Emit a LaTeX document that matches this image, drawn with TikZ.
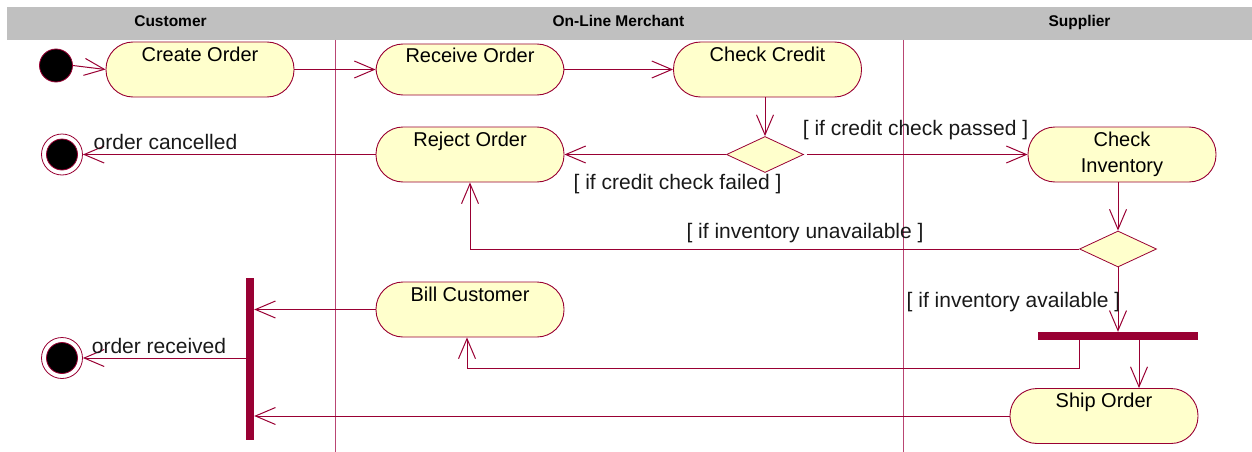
\documentclass[tikz,border=0pt]{standalone}
\usepackage{fontspec}
\setmainfont{Liberation Sans}
\usetikzlibrary{arrows.meta,shapes.geometric}
\definecolor{umlline}{RGB}{153,0,51}
\definecolor{umlfill}{RGB}{255,255,204}
\definecolor{lanegray}{RGB}{192,192,192}
\definecolor{laneline}{RGB}{185,70,115}
\begin{document}
\begin{tikzpicture}[x=1pt,y=-1pt,
  act/.style={draw=umlline, fill=umlfill, line width=0.9pt, rounded corners=27pt,
    minimum width=188pt, minimum height=55pt, inner sep=3pt,
    text height=16pt, text depth=33pt, font=\fontsize{20}{26}\selectfont},
  actc/.style={draw=umlline, fill=umlfill, line width=0.9pt, rounded corners=27pt,
    minimum width=188pt, minimum height=55pt, inner sep=3pt, align=center,
    font=\fontsize{20}{26}\selectfont},
  decision/.style={diamond, draw=umlline, fill=umlfill, line width=0.8pt,
    minimum width=77pt, minimum height=36pt, inner sep=0pt},
  initial/.style={circle, fill=black, draw=umlline, line width=0.8pt,
    minimum size=33pt, inner sep=0pt},
  final/.style={circle, draw=umlline, fill=white, line width=0.8pt,
    minimum size=41pt, inner sep=0pt,
    path picture={\draw[umlline, fill=black, line width=0.8pt]
      (path picture bounding box.center) circle (15.5pt);}},
  bar/.style={fill=umlline, inner sep=0pt},
  flow/.style={draw=umlline, line width=1pt,
    -{Straight Barb[length=20pt,width=17pt,line width=1pt]}},
  guard/.style={font=\fontsize{21}{24}\selectfont, inner sep=0pt, text=black!90},
  lanehead/.style={font=\fontsize{15.5}{18}\selectfont\bfseries, inner sep=0pt},
  lanesep/.style={draw=laneline, line width=0.9pt}]
\useasboundingbox (0,0) rectangle (1252,452);
% header band
\fill[lanegray] (7,7) rectangle (1252,40);
\node[lanehead, anchor=base] (hcust) at (170.5,27) {Customer};
\node[lanehead, anchor=base] (hmerch) at (618.5,27) {On-Line Merchant};
\node[lanehead, anchor=base] (hsupp) at (1079.5,27) {Supplier};
% lane separators
\coordinate (l1top) at (335,40);
\coordinate (l1bot) at (335,452);
\coordinate (l2top) at (903,40);
\coordinate (l2bot) at (903,452);
\draw[lanesep] (l1top) -- (l1bot);
\draw[lanesep] (l2top) -- (l2bot);
% nodes
\node[initial] (init) at (56,65.5) {};
\node[act] (create) at (200,69.5) {Create Order};
\node[act, minimum height=51pt, text depth=29pt] (receive) at (470,69.5) {Receive Order};
\node[act] (credit) at (767.5,69.5) {Check Credit};
\node[act] (reject) at (470,154.5) {Reject Order};
\node[decision] (d1) at (765,154.5) {};
\node[actc] (inv) at (1122,154.5) {Check\\Inventory};
\node[final] (fin1) at (62,154.5) {};
\node[decision] (d2) at (1118,249) {};
\node[bar, minimum width=160pt, minimum height=8pt] (fork) at (1118,336) {};
\node[act] (bill) at (470,309.5) {Bill Customer};
\node[act] (ship) at (1104,416) {Ship Order};
\node[bar, minimum width=8pt, minimum height=162pt] (join) at (250,359) {};
\node[final] (fin2) at (62,358) {};
% connectors
\draw[flow] (init.east) -- (create.west);
\draw[flow] (create.east) -- (receive.west);
\draw[flow] (receive.east) -- (credit.west);
\draw[flow] (d1.north |- credit.south) -- (d1.north);
\draw[flow] (d1.west) -- (reject.east);
\draw[flow] ([xshift=3pt]d1.east) -- (inv.west);
\draw[flow] (reject.west) -- (fin1.east);
\draw[flow] (d2.north |- inv.south) -- (d2.north);
\draw[flow] (d2.west) -| (reject.south);
\draw[flow] (d2.south) -- (d2.south |- fork.north);
\draw[flow] ([xshift=-39pt]fork.south) -- ++(0,28) -| ([xshift=-3pt]bill.south);
\draw[flow] ([xshift=21pt]fork.south) -- ([xshift=21pt]fork.south |- ship.north);
\draw[flow] (bill.west) -- (bill.west -| join.east);
\draw[flow] (ship.west) -- (ship.west -| join.east);
\draw[flow] (join.west |- fin2.east) -- (fin2.east);
% labels
\node[guard, anchor=base] (lcanc) at (165.5,149) {order cancelled};
\node[guard, anchor=base] (lrecv) at (159,353) {order received};
\node[guard, anchor=base] (lfail) at (677.5,189) {[ if credit check failed ]};
\node[guard, anchor=base] (lpass) at (915.5,135) {[ if credit check passed ]};
\node[guard, anchor=base] (lunav) at (805,238) {[ if inventory unavailable ]};
\node[guard, anchor=base] (lavail) at (1013.5,307) {[ if inventory available ]};
\end{tikzpicture}
\end{document}
